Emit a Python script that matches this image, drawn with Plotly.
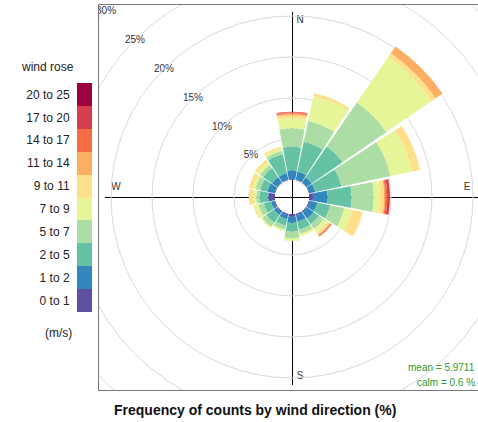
import math
import plotly.graph_objects as go

# ---------------- data ----------------
directions = ["N", "NNE", "NE", "ENE", "E", "ESE", "SE", "SSE",
              "S", "SSW", "SW", "WSW", "W", "WNW", "NW", "NNW"]
dir_angles = [0, 22.5, 45, 67.5, 90, 112.5, 135, 157.5,
              180, 202.5, 225, 247.5, 270, 292.5, 315, 337.5]

speed_bins = ["0 to 1", "1 to 2", "2 to 5", "5 to 7", "7 to 9",
              "9 to 11", "11 to 14", "14 to 17", "17 to 20", "20 to 25"]

# frequency (%) of each speed bin for each direction (order of `directions`)
pct_0_1 = [0.1, 0.1, 0.1, 0.1, 0.5, 0.15, 0.15, 0.2, 0.35, 0.2, 0.15, 0.15, 0.8, 0.1, 0.1, 0.1]
pct_1_2 = [1.1, 1.0, 0.75, 0.75, 1.8, 0.95, 1.0, 0.8, 0.75, 0.5, 0.45, 0.4, 0.1, 0.9, 0.8, 0.8]
pct_2_5 = [2.85, 3.7, 4.55, 3.25, 2.9, 1.6, 0.8, 1.0, 1.05, 0.8, 1.15, 0.9, 1.0, 0.9, 1.3, 2.35]
pct_5_7 = [2.25, 2.6, 6.5, 6.1, 2.7, 1.75, 0.7, 0.5, 0.8, 0.5, 0.6, 0.7, 0.4, 0.6, 0.5, 0.45]
pct_7_9 = [1.2, 3.1, 6.7, 2.7, 0.75, 1.0, 0.6, 0.3, 0.3, 0.2, 0.2, 0.4, 0.3, 0.3, 0.4, 0.3]
pct_9_11 = [0.4, 0.35, 0.6, 1.0, 0.5, 1.3, 0.25, 0.0, 0.05, 0.0, 0.0, 0.2, 0.6, 0.5, 0.35, 0.2]
pct_11_14 = [0.2, 0.0, 1.0, 0.0, 0.15, 0.0, 0.15, 0.0, 0.0, 0.0, 0.0, 0.0, 0.0, 0.0, 0.0, 0.0]
pct_14_17 = [0.15, 0.0, 0.0, 0.0, 0.25, 0.0, 0.15, 0.0, 0.0, 0.0, 0.0, 0.0, 0.0, 0.0, 0.0, 0.0]
pct_17_20 = [0.08, 0.0, 0.0, 0.0, 0.33, 0.0, 0.0, 0.0, 0.0, 0.0, 0.0, 0.0, 0.0, 0.0, 0.0, 0.0]
pct_20_25 = [0.0] * 16

bin_values = [pct_0_1, pct_1_2, pct_2_5, pct_5_7, pct_7_9,
              pct_9_11, pct_11_14, pct_14_17, pct_17_20, pct_20_25]

ring_ticks = [5, 10, 15, 20, 25, 30]
ring_labels = ["5%", "10%", "15%", "20%", "25%", "30%"]
compass_labels = ["N", "E", "S", "W"]

mean_text = "mean = 5.9711"
calm_text = "calm = 0.6 %"
title_text = "Frequency of counts by wind direction (%)"
legend_title = "wind rose"
legend_units = "(m/s)"

# ---------------- styles / geometry ----------------
bin_colors = ["#5E4FA2", "#3288BD", "#66C2A5", "#ABDDA4", "#E6F598",
              "#FEE08B", "#FDAE61", "#F46D43", "#D53E4F", "#9E0142"]

W, H = 478, 422
CX, CY = 292, 197          # centre of the rose (pixels from top-left)
HOLE_PX = 17               # radius of the central hole
PX_PER_PCT = 8.2           # pixels per 1 % on the radial scale
POLAR_R = 185              # pixel radius of the polar subplot
FRAME = dict(left=99, right=478, top=5, bottom=390)
FONT = "Liberation Sans, Arial, sans-serif"
GRID = "#d9d9d9"

rmax = (POLAR_R - HOLE_PX) / PX_PER_PCT
hole_u = HOLE_PX / PX_PER_PCT  # hole in cartesian (percent) units

fig = go.Figure()

# stacked wind-rose bars
for name, vals, col in zip(speed_bins, bin_values, bin_colors):
    fig.add_trace(go.Barpolar(
        r=vals, theta=dir_angles, name=name, width=21,
        marker=dict(color=col, line=dict(width=0)),
        hoverinfo="skip", showlegend=False,
    ))


def cx(px):
    return (px - CX) / PX_PER_PCT


def cy(py):
    return (CY - py) / PX_PER_PCT


diag = math.cos(math.radians(45))
lab_x = [-(hole_u + t) * diag for t in ring_ticks]
lab_y = [(hole_u + t) * diag for t in ring_ticks]
fig.add_trace(go.Scatter(
    x=lab_x, y=lab_y, mode="text", text=ring_labels,
    textfont=dict(family=FONT, size=10, color="#333333"),
    xaxis="x", yaxis="y", cliponaxis=True, hoverinfo="skip", showlegend=False,
))

# compass labels
comp_px = [(300, 20), (467, 187), (300, 376), (116, 187)]
fig.add_trace(go.Scatter(
    x=[cx(p[0]) for p in comp_px], y=[cy(p[1]) for p in comp_px],
    mode="text", text=compass_labels,
    textfont=dict(family=FONT, size=10, color="#333333"),
    xaxis="x", yaxis="y", cliponaxis=True, hoverinfo="skip", showlegend=False,
))

# legend key as a heatmap strip
n = len(speed_bins)
fig.add_trace(go.Heatmap(
    x=[0], y=speed_bins, z=[[i] for i in range(n)],
    zmin=0, zmax=n - 1,
    colorscale=[[i / (n - 1), c] for i, c in enumerate(bin_colors)],
    showscale=False, xaxis="x2", yaxis="y2", hoverinfo="skip",
))

shapes = []
for t in ring_ticks:
    if t > rmax:
        R = hole_u + t
        shapes.append(dict(type="circle", xref="x", yref="y", x0=-R, x1=R, y0=-R, y1=R,
                           line=dict(color=GRID, width=1), layer="below"))
# compass cross lines (half-pixel offset for crisp rendering)
shapes.append(dict(type="line", xref="x", yref="y", x0=cx(CX + 0.5), x1=cx(CX + 0.5),
                   y0=cy(12), y1=cy(385), line=dict(color="black", width=1), layer="below"))
shapes.append(dict(type="line", xref="x", yref="y", x0=cx(105), x1=cx(480),
                   y0=cy(CY + 0.5), y1=cy(CY + 0.5), line=dict(color="black", width=1),
                   layer="below"))


def ann(text, px, py, size, color="#222222", xanchor="center"):
    return dict(text=text, x=px / W, y=1 - py / H, xref="paper", yref="paper",
                xanchor=xanchor, yanchor="middle", showarrow=False,
                font=dict(family=FONT, size=size, color=color))


fig.update_layout(
    width=W, height=H, margin=dict(l=0, r=0, t=0, b=0, autoexpand=False),
    template="none", paper_bgcolor="white", plot_bgcolor="rgba(0,0,0,0)",
    showlegend=False, font=dict(family=FONT, color="#222222"),
    polar=dict(
        domain=dict(x=[(CX - POLAR_R) / W, (CX + POLAR_R) / W],
                    y=[(H - CY - POLAR_R) / H, (H - CY + POLAR_R) / H]),
        bgcolor="rgba(0,0,0,0)", hole=HOLE_PX / POLAR_R, barmode="stack",
        radialaxis=dict(range=[0, rmax], tickvals=[t for t in ring_ticks if t <= rmax],
                        showticklabels=False, ticks="", showline=False,
                        gridcolor=GRID, gridwidth=1),
        angularaxis=dict(direction="clockwise", rotation=90, showgrid=False,
                         showline=False, showticklabels=False, ticks=""),
    ),
    xaxis=dict(domain=[FRAME["left"] / W, FRAME["right"] / W],
               range=[cx(FRAME["left"]), cx(FRAME["right"])],
               showgrid=False, zeroline=False, showticklabels=False, ticks="",
               showline=True, mirror=True, linecolor="#777777", linewidth=1.3,
               fixedrange=True),
    yaxis=dict(domain=[(H - FRAME["bottom"]) / H, (H - FRAME["top"]) / H],
               range=[cy(FRAME["bottom"]), cy(FRAME["top"])],
               showgrid=False, zeroline=False, showticklabels=False, ticks="",
               showline=True, mirror=False, linecolor="#777777", linewidth=1.3,
               fixedrange=True),
    xaxis2=dict(domain=[77 / W, 92 / W], anchor="y2", visible=False, fixedrange=True),
    yaxis2=dict(domain=[(H - 312) / H, (H - 83) / H], anchor="x2", type="category",
                ticks="outside", ticklen=4, tickcolor="rgba(0,0,0,0)",
                showline=False, showgrid=False, zeroline=False,
                tickfont=dict(family=FONT, size=12, color="#222222"), fixedrange=True),
    shapes=shapes,
    annotations=[
        ann(legend_title, 47, 67, 12),
        ann(legend_units, 58, 333, 12),
        ann("<b>" + title_text + "</b>", 255, 410, 14, "#111111"),
        ann(mean_text, 477, 367, 10, "#2e9a2e", "right"),
        ann(calm_text, 477, 382, 10, "#2e9a2e", "right"),
    ],
)

fig.write_html(
    "out.html",
    config={"displayModeBar": False, "staticPlot": True},
    post_script="document.body.style.margin='0px';document.body.style.padding='0px';"
                "document.body.style.overflow='hidden';",
)
